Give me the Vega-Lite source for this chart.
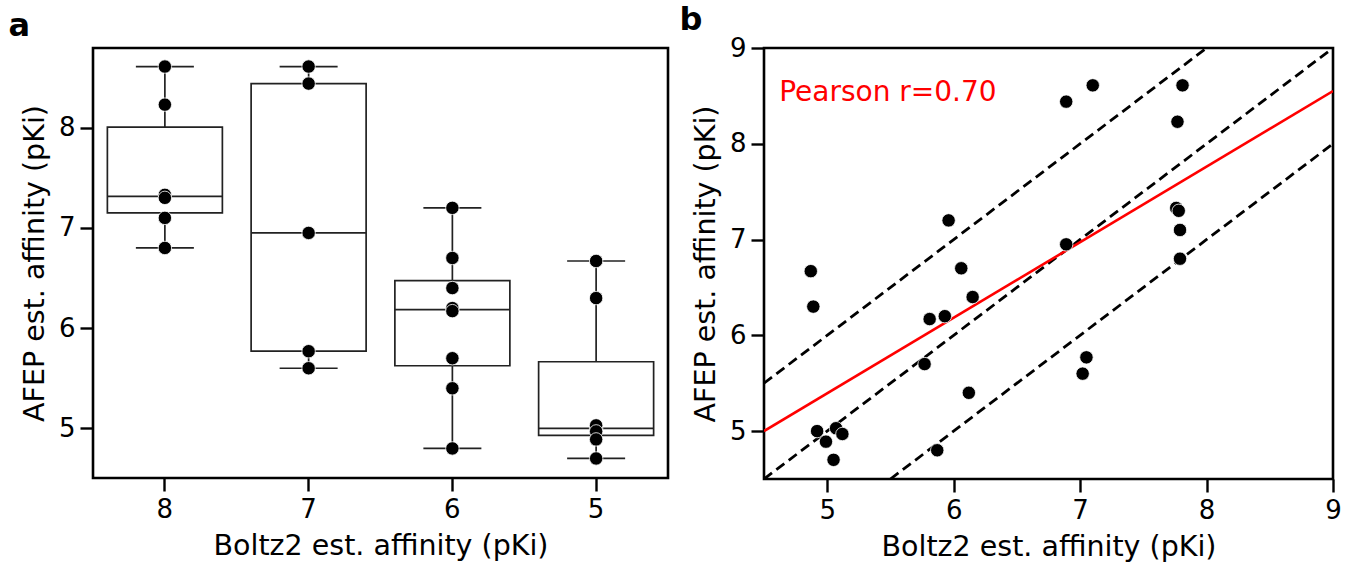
{
  "$schema": "https://vega.github.io/schema/vega-lite/v6.json",
  "background": "white",
  "padding": {"left": 7, "top": 2, "right": 5, "bottom": 5},
  "spacing": 8,
  "datasets": {
    "pts": [
      {"bin": "8", "boltz": 7.81, "afep": 8.61},
      {"bin": "8", "boltz": 7.77, "afep": 8.23},
      {"bin": "8", "boltz": 7.76, "afep": 7.33},
      {"bin": "8", "boltz": 7.78, "afep": 7.30},
      {"bin": "8", "boltz": 7.79, "afep": 7.10},
      {"bin": "8", "boltz": 7.79, "afep": 6.80},
      {"bin": "7", "boltz": 7.10, "afep": 8.61},
      {"bin": "7", "boltz": 6.89, "afep": 8.44},
      {"bin": "7", "boltz": 6.89, "afep": 6.95},
      {"bin": "7", "boltz": 7.05, "afep": 5.77},
      {"bin": "7", "boltz": 7.02, "afep": 5.60},
      {"bin": "6", "boltz": 5.96, "afep": 7.20},
      {"bin": "6", "boltz": 6.06, "afep": 6.70},
      {"bin": "6", "boltz": 6.15, "afep": 6.40},
      {"bin": "6", "boltz": 5.93, "afep": 6.20},
      {"bin": "6", "boltz": 5.81, "afep": 6.17},
      {"bin": "6", "boltz": 5.77, "afep": 5.70},
      {"bin": "6", "boltz": 6.12, "afep": 5.40},
      {"bin": "6", "boltz": 5.87, "afep": 4.80},
      {"bin": "5", "boltz": 4.87, "afep": 6.67},
      {"bin": "5", "boltz": 4.89, "afep": 6.30},
      {"bin": "5", "boltz": 4.92, "afep": 5.00},
      {"bin": "5", "boltz": 5.07, "afep": 5.03},
      {"bin": "5", "boltz": 5.12, "afep": 4.97},
      {"bin": "5", "boltz": 4.99, "afep": 4.89},
      {"bin": "5", "boltz": 5.05, "afep": 4.70}
    ],
    "diag": [
      {"line": "y=x", "x": 4.5, "y": 4.5},
      {"line": "y=x", "x": 9, "y": 9},
      {"line": "y=x+1", "x": 4.5, "y": 5.5},
      {"line": "y=x+1", "x": 8, "y": 9},
      {"line": "y=x-1", "x": 5.5, "y": 4.5},
      {"line": "y=x-1", "x": 9, "y": 8}
    ],
    "fit": [
      {"x": 4.5, "y": 5.0},
      {"x": 9, "y": 8.55}
    ],
    "ann": [
      {"x": 4.62, "y": 8.45, "label": "Pearson r=0.70"}
    ]
  },
  "config": {
    "font": "DejaVu Sans",
    "view": {"stroke": "black", "strokeWidth": 2.6},
    "axis": {
      "domain": false,
      "grid": false,
      "format": "d",
      "tickColor": "black",
      "tickWidth": 2.4,
      "tickSize": 13,
      "labelColor": "black",
      "labelFont": "DejaVu Sans",
      "labelFontSize": 26,
      "labelPadding": 5,
      "labelFlush": false,
      "labelOverlap": false,
      "titleColor": "black",
      "titleFont": "DejaVu Sans",
      "titleFontSize": 28.5,
      "titleFontWeight": "normal",
      "titlePadding": 9
    },
    "title": {
      "fontSize": 32,
      "fontWeight": "bold",
      "anchor": "start",
      "frame": "bounds",
      "color": "black",
      "font": "DejaVu Sans"
    }
  },
  "hconcat": [
    {
      "title": {"text": "a", "offset": 5, "dx": -12},
      "width": 575,
      "height": 430,
      "data": {"name": "pts"},
      "layer": [
        {
          "mark": {
            "type": "boxplot",
            "extent": "min-max",
            "size": 115,
            "box": {"fill": "white", "stroke": "#222", "strokeWidth": 1.7, "opacity": 1},
            "median": {"color": "#222", "thickness": 1.7, "opacity": 1},
            "rule": {"color": "#222", "strokeWidth": 1.7, "opacity": 1},
            "ticks": {"color": "#222", "thickness": 1.7, "size": 58, "opacity": 1},
            "outliers": false
          },
          "encoding": {
            "x": {
              "field": "bin", "type": "nominal", "sort": ["8", "7", "6", "5"],
              "scale": {"paddingInner": 0, "paddingOuter": 0},
              "axis": {"labelAngle": 0, "title": "Boltz2 est. affinity (pKi)"}
            },
            "y": {
              "field": "afep", "type": "quantitative",
              "scale": {"domain": [4.505, 8.795], "nice": false, "zero": false},
              "axis": {"values": [5, 6, 7, 8], "title": "AFEP est. affinity (pKi)"}
            }
          }
        },
        {
          "mark": {"type": "point", "filled": true, "fill": "black", "stroke": "white", "strokeWidth": 0.8, "size": 180, "opacity": 1},
          "encoding": {
            "x": {"field": "bin", "type": "nominal", "sort": ["8", "7", "6", "5"]},
            "y": {"field": "afep", "type": "quantitative"}
          }
        }
      ]
    },
    {
      "title": {"text": "b", "offset": -2, "dx": -12},
      "width": 569,
      "height": 431,
      "layer": [
        {
          "data": {"name": "diag"},
          "mark": {"type": "line", "color": "black", "strokeWidth": 2.8, "strokeDash": [10, 5.5], "clip": true},
          "encoding": {
            "x": {
              "field": "x", "type": "quantitative",
              "scale": {"domain": [4.5, 9], "nice": false, "zero": false},
              "axis": {"values": [5, 6, 7, 8, 9], "title": "Boltz2 est. affinity (pKi)"}
            },
            "y": {
              "field": "y", "type": "quantitative",
              "scale": {"domain": [4.5, 9], "nice": false, "zero": false},
              "axis": {"values": [5, 6, 7, 8, 9], "title": "AFEP est. affinity (pKi)"}
            },
            "detail": {"field": "line"}
          }
        },
        {
          "data": {"name": "fit"},
          "mark": {"type": "line", "color": "red", "strokeWidth": 2.6, "clip": true},
          "encoding": {
            "x": {"field": "x", "type": "quantitative"},
            "y": {"field": "y", "type": "quantitative"}
          }
        },
        {
          "data": {"name": "pts"},
          "mark": {"type": "point", "filled": true, "fill": "black", "stroke": "white", "strokeWidth": 0.8, "size": 180, "opacity": 1},
          "encoding": {
            "x": {"field": "boltz", "type": "quantitative"},
            "y": {"field": "afep", "type": "quantitative"}
          }
        },
        {
          "data": {"name": "ann"},
          "mark": {"type": "text", "color": "red", "fontSize": 28, "align": "left", "baseline": "alphabetic", "font": "DejaVu Sans"},
          "encoding": {
            "x": {"field": "x", "type": "quantitative"},
            "y": {"field": "y", "type": "quantitative"},
            "text": {"field": "label"}
          }
        }
      ]
    }
  ]
}
